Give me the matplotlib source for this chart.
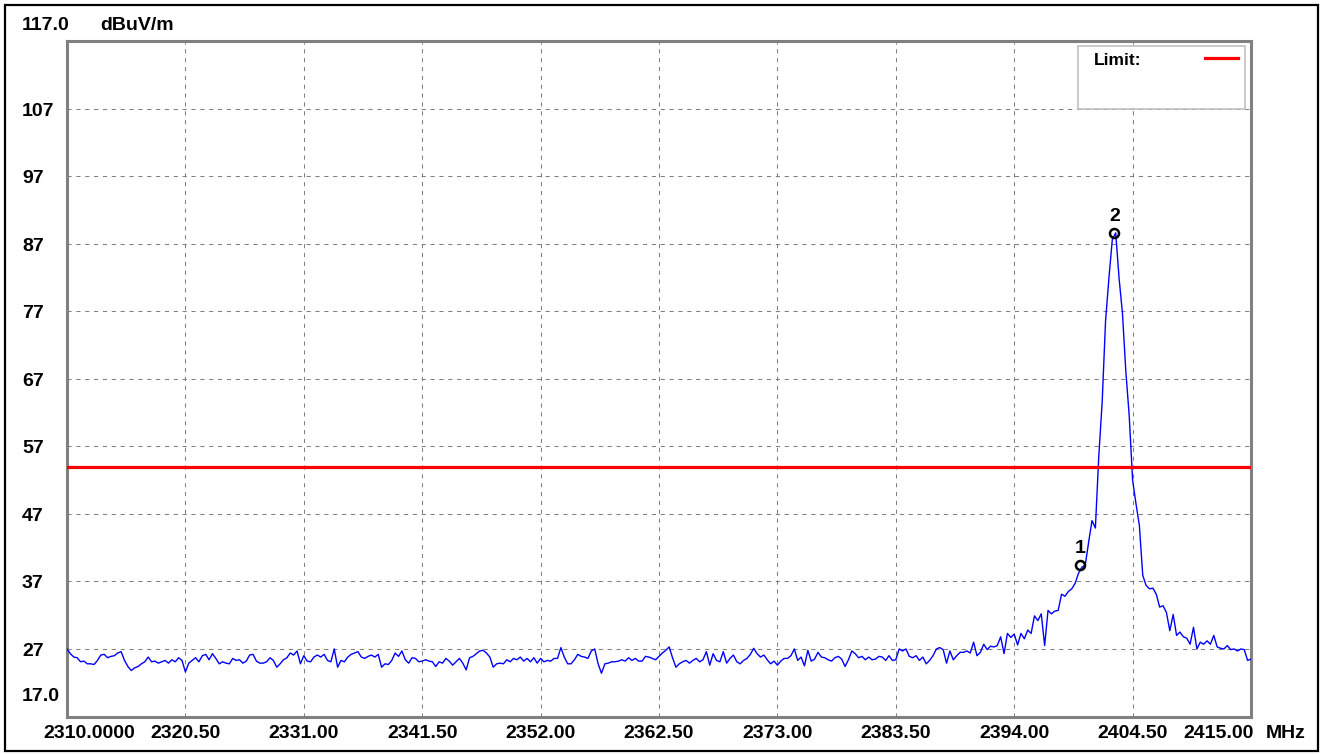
import matplotlib
matplotlib.use("Agg")
import matplotlib.pyplot as plt
import numpy as np
from matplotlib.transforms import offset_copy
from matplotlib.patches import Rectangle
from matplotlib.lines import Line2D

# ---------------- data ----------------
freq_start = 2310.0
freq_stop = 2415.0

levels = [
    27.0, 26.3, 25.8, 25.7, 25.1, 25.2, 24.8, 24.8, 24.7, 25.3,
    26.1, 26.2, 25.7, 25.9, 26.0, 26.4, 26.6, 25.3, 24.4, 23.8,
    24.2, 24.4, 24.8, 25.1, 25.8, 25.1, 25.2, 24.9, 25.1, 25.3,
    24.9, 25.4, 25.1, 25.7, 25.3, 23.6, 24.9, 25.3, 25.7, 25.1,
    26.0, 26.2, 25.4, 26.3, 25.6, 24.8, 25.1, 24.9, 24.8, 25.6,
    25.3, 25.4, 24.9, 25.2, 26.1, 26.2, 25.2, 24.9, 24.9, 25.1,
    25.7, 25.3, 24.3, 24.8, 25.4, 25.7, 26.4, 26.1, 26.7, 24.8,
    26.0, 25.2,
    25.1, 25.8, 26.1, 25.8, 26.2, 25.3, 25.1, 27.0, 24.3, 25.3,
    25.1, 25.8, 26.2, 26.4, 26.6, 25.8, 25.6, 25.9, 26.1, 25.8,
    26.2, 24.3, 24.8, 24.7, 25.3, 26.4, 25.9, 26.7, 25.4, 24.9,
    25.7, 25.6, 25.1, 25.2, 25.4, 25.2, 25.1, 24.4, 25.1, 24.9,
    25.6, 25.2, 24.6, 25.1, 25.6, 24.9, 23.9, 25.7, 25.9, 26.3,
    26.7, 26.8, 26.4, 25.8, 24.3, 24.8, 24.9, 24.8, 25.4, 25.1,
    25.6, 25.4, 25.8, 25.2, 25.6, 25.1, 25.7, 24.9, 25.6, 25.1,
    25.3,
    25.2, 25.6, 25.6, 27.2, 25.8, 24.8, 24.8, 25.4, 26.2, 25.9,
    25.8, 25.6, 26.7, 27.0, 24.8, 23.4, 24.8, 24.9, 25.1, 25.1,
    25.2, 25.4, 25.2, 25.7, 25.3, 25.6, 25.2, 25.2, 25.9, 25.8,
    25.6, 25.4, 25.9, 26.4, 26.8, 27.3, 25.7, 24.3, 24.8, 25.1,
    25.3, 24.9, 25.3, 25.6, 25.1, 25.4, 26.6, 24.6, 26.3, 25.3,
    25.1, 26.6, 24.9, 25.6, 26.1, 25.1, 24.8, 25.3, 25.6, 26.2,
    27.1, 26.3, 25.8, 26.1, 25.4, 24.8, 25.2, 24.6, 25.2, 25.6,
    25.6,
    26.0, 27.0, 25.3, 25.8, 24.5, 26.8, 25.2, 25.5, 26.5, 25.8,
    25.7, 25.4, 25.2, 25.7, 25.9, 25.5, 24.4, 25.4, 26.7, 26.3,
    25.7, 25.9, 25.4, 25.8, 25.4, 25.5, 25.9, 25.8, 25.3, 26.0,
    25.3, 25.4, 27.0, 26.7, 27.0, 25.9, 25.7, 26.0, 25.3, 25.8,
    24.8, 25.3, 26.0, 27.0, 27.2, 26.9, 24.9, 26.7, 25.4, 26.0,
    26.5, 26.5, 26.7, 26.4, 28.0, 26.0, 26.5, 27.7, 26.9, 27.4,
    27.3, 27.5, 28.8, 26.3, 29.3, 28.7, 29.2, 27.6, 29.3, 28.5,
    29.8,
    29.3, 31.9, 31.2, 32.2, 27.5, 32.7, 32.2, 32.6, 32.7, 35.1,
    34.8, 35.5, 35.9, 36.7, 38.2, 39.1, 39.4, 42.8, 46.0, 44.9,
    55.5, 63.5, 75.5, 81.9, 87.6, 88.6, 81.9, 76.7, 68.1, 61.5,
    52.0, 48.5, 45.3, 37.9, 36.4, 35.9, 36.0, 35.1, 33.2, 33.4,
    32.4, 29.7, 32.1, 29.0, 29.5, 28.8, 28.6, 27.7, 30.2, 27.0,
    28.0, 27.7, 28.2, 27.7, 29.0, 27.3, 27.1, 27.0, 27.5, 26.9,
    27.0, 26.7, 27.0, 26.9, 25.3, 25.5,
]

limit_level = 54.0

marker_freqs = [2399.84, 2402.88]
marker_levels = [39.4, 88.6]
marker_labels = ["1", "2"]

x_ticks = [2310.0, 2320.5, 2331.0, 2341.5, 2352.0, 2362.5,
           2373.0, 2383.5, 2394.0, 2404.5, 2415.0]
x_tick_labels = ["2310.0000", "2320.50", "2331.00", "2341.50", "2352.00",
                 "2362.50", "2373.00", "2383.50", "2394.00", "2404.50",
                 "2415.00"]
y_ticks = [17, 27, 37, 47, 57, 67, 77, 87, 97, 107, 117]
y_tick_labels = ["17.0", "27", "37", "47", "57", "67", "77", "87", "97",
                 "107", "117.0"]
x_unit = "MHz"
y_unit = "dBuV/m"
legend_label = "Limit:"

freq = np.linspace(freq_start, freq_stop, len(levels))

# ---------------- figure ----------------
W, H = 1322, 754
fig = plt.figure(figsize=(W / 100, H / 100), dpi=100)
fig.patch.set_facecolor("white")

FONT = dict(family="Liberation Sans", weight="bold", size=14, color="black")

L, R, T, B = 67, 1251, 41, 716.5
ax = fig.add_axes([L / W, (H - B) / H, (R - L) / W, (B - T) / H])
ax.set_xlim(freq_start, freq_stop)
ax.set_ylim(17, 117)
ax.set_xticks(x_ticks)
ax.set_yticks(y_ticks)
ax.tick_params(length=0, labelbottom=False, labelleft=False)
ax.grid(True, color="#808080", linewidth=0.75, linestyle=(0, (4, 4.5)))
ax.set_axisbelow(True)
for s in ax.spines.values():
    s.set_color("#808080")
    s.set_linewidth(2.2)

# trace and limit
ax.plot(freq, levels, color="#0000ff", linewidth=1.0, zorder=3)
ax.axhline(limit_level, color="#ff0000", linewidth=2.3, zorder=4)

# markers
ax.plot(marker_freqs, marker_levels, linestyle="none", marker="o",
        markersize=6.5, markerfacecolor="none", markeredgecolor="black",
        markeredgewidth=1.8, zorder=5)
for f, v, lab in zip(marker_freqs, marker_levels, marker_labels):
    tr = offset_copy(ax.transData, fig=fig, x=0, y=12, units="dots")
    ax.text(f, v, lab, transform=tr, ha="center", va="baseline", **FONT)

# y tick labels
for v, lab in zip(y_ticks, y_tick_labels):
    dy = -7
    if v == y_ticks[-1]:
        dy = 11
    elif v == y_ticks[0]:
        dy = 15.5
    tr = offset_copy(ax.get_yaxis_transform(), fig=fig, x=-45, y=dy, units="dots")
    ax.text(0, v, lab, transform=tr, ha="left", va="baseline", **FONT)
tr = offset_copy(ax.get_yaxis_transform(), fig=fig, x=33, y=11, units="dots")
ax.text(0, y_ticks[-1], y_unit, transform=tr, ha="left", va="baseline", **FONT)

# x tick labels
for i, (f, lab) in enumerate(zip(x_ticks, x_tick_labels)):
    dx, ha = 0, "center"
    if i == 0:
        dx, ha = -24, "left"
    elif i == len(x_ticks) - 1:
        dx, ha = 3, "right"
    tr = offset_copy(ax.get_xaxis_transform(), fig=fig, x=dx, y=-21, units="dots")
    ax.text(f, 0, lab, transform=tr, ha=ha, va="baseline", **FONT)
tr = offset_copy(ax.get_xaxis_transform(), fig=fig, x=15, y=-21, units="dots")
ax.text(x_ticks[-1], 0, x_unit, transform=tr, ha="left", va="baseline", **FONT)

# legend box
ax.add_patch(Rectangle((0.8535, 0.8998), 0.9949 - 0.8535, 0.9932 - 0.8998,
                       transform=ax.transAxes, facecolor="white",
                       edgecolor="#c0c0c0", linewidth=1.2, zorder=6))
ax.text(0.8672, 0.9648, legend_label, transform=ax.transAxes, ha="left",
        va="baseline", zorder=7, family="Liberation Sans", weight="bold",
        size=12.5, color="black")
ax.add_line(Line2D([0.9611, 0.9889], [0.975, 0.975], transform=ax.transAxes,
                   color="#ff0000", linewidth=2.3, zorder=7))

# outer frame
fig.patches.append(Rectangle((5 / W, 3 / H), (1318 - 5) / W, (751 - 4.5) / H,
                             transform=fig.transFigure, fill=False,
                             edgecolor="black", linewidth=1.6))

fig.savefig("out.png", dpi=100)
